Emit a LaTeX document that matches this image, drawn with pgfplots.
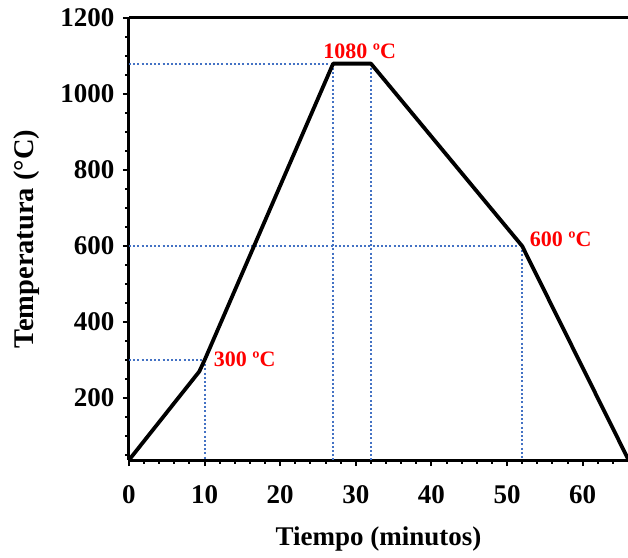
\documentclass[border=0pt]{standalone}
\usepackage{fontspec}
\setmainfont{Liberation Serif}
\usepackage{pgfplots}
\pgfplotsset{compat=1.18}
\definecolor{dotblue}{RGB}{68,114,196}
\definecolor{lblred}{RGB}{255,0,0}
\begin{document}
\begin{tikzpicture}
\begin{axis}[
  name=ax,
  scale only axis,
  width=499pt, height=442pt,
  xmin=0, xmax=66, ymin=37, ymax=1200,
  axis x line*=box, axis y line*=left,
  xtick pos=lower, ytick pos=left,
  xtick={0,10,20,30,40,50,60},
  ytick={200,400,600,800,1000,1200},
  minor xtick={2,4,...,64},
  minor ytick={50,100,...,1150},
  tick align=outside,
  major tick length=6pt, minor tick length=3.5pt,
  every tick/.style={black, line width=2pt},
  axis line style={black, line width=3pt},
  /pgf/number format/assume math mode=true,
  /pgf/number format/1000 sep={},
  tick label style={font=\fontsize{27}{31}\selectfont\bfseries},
  xticklabel style={yshift=-16pt},
  yticklabel style={xshift=-5pt},
  xlabel={Tiempo (minutos)},
  ylabel={Temperatura (°C)},
  xlabel style={font=\fontsize{27}{31}\selectfont\bfseries, yshift=-16pt},
  ylabel style={font=\fontsize{28.5}{32}\selectfont\bfseries, yshift=14pt},
  clip=false,
]
\addplot[dotblue, dash pattern=on 2pt off 2.2pt, line width=2pt] coordinates {(0,1080) (27,1080)};
\addplot[dotblue, dash pattern=on 2pt off 2.2pt, line width=2pt] coordinates {(27,1080) (27,37)};
\addplot[dotblue, dash pattern=on 2pt off 2.2pt, line width=2pt] coordinates {(32,1080) (32,37)};
\addplot[dotblue, dash pattern=on 2pt off 2.2pt, line width=2pt] coordinates {(0,600) (52,600)};
\addplot[dotblue, dash pattern=on 2pt off 2.2pt, line width=2pt] coordinates {(52,600) (52,37)};
\addplot[dotblue, dash pattern=on 2pt off 2.2pt, line width=2pt] coordinates {(0,300) (10,300)};
\addplot[dotblue, dash pattern=on 2pt off 2.2pt, line width=2pt] coordinates {(10,300) (10,37)};
\addplot[black, line width=3.8pt, line join=round] coordinates {
(0,37) (9.3,270) (10,300) (27,1080) (32,1080) (52,600) (66,40)};
\node[anchor=base, inner sep=0pt, text=lblred, font=\fontsize{22}{26}\selectfont\bfseries] at (axis cs:30.5,1094) {1080 ºC};
\node[anchor=base west, inner sep=0pt, text=lblred, font=\fontsize{22}{26}\selectfont\bfseries] at (axis cs:11.2,283) {300 ºC};
\node[anchor=base west, inner sep=0pt, text=lblred, font=\fontsize{22}{26}\selectfont\bfseries] at (axis cs:53,598) {600 ºC};
\end{axis}
\pgfresetboundingbox
\path ([xshift=-129pt,yshift=-97pt]ax.south west) rectangle ([yshift=18pt]ax.north east);
\end{tikzpicture}
\end{document}
